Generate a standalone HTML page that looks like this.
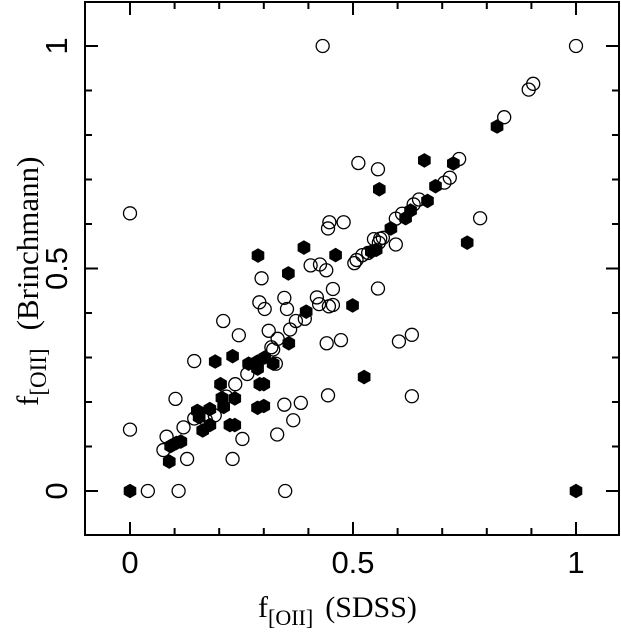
<!DOCTYPE html>
<html><head><meta charset="utf-8"><style>
html,body{margin:0;padding:0;background:#fff}
svg{display:block}
text{font-family:"Liberation Sans",sans-serif;fill:#000}
.tt{font-family:"Liberation Serif",serif}
</style></head><body>
<svg id="chart" width="621" height="644" viewBox="0 0 621 644" xmlns="http://www.w3.org/2000/svg">
<g id="axes"></g>
<g id="marks"></g>
<text class="tt" x="258" y="617" font-size="30">f<tspan font-size="22" dy="8">[OII]</tspan><tspan dy="-8" dx="12">(SDSS)</tspan></text>
<text class="tt" transform="translate(38,406) rotate(-90)" font-size="31">f<tspan font-size="23" dy="8">[OII]</tspan><tspan dy="-8" dx="18">(Brinchmann)</tspan></text>
</svg>
<script>
const xTicks=[0,0.5,1];
const xTickLabels=["0","0.5","1"];
const yTicks=[0,0.5,1];
const yTickLabels=["0","0.5","1"];
const openX=[0.432,1,0.894,0.904,0.839,0.738,0.512,0.556,0.717,0.705,0.648,0.636,0.610,0.596,0.785,0,0.479,0.447,0.444,0.547,0.561,0.567,0.558,0.596,0.534,0.521,0.508,0.503,0.405,0.426,0.440,0.295,0.556,0.455,0.346,0.352,0.290,0.302,0.419,0.424,0.446,0.455,0.392,0.372,0.359,0.311,0.209,0.244,0.331,0.317,0.321,0.327,0.441,0.473,0.603,0.632,0.144,0.263,0.236,0.216,0.102,0.444,0.632,0.383,0.346,0.144,0.120,0.366,0,0.082,0.075,0.330,0.252,0.128,0.230,0.040,0.109,0.348,0.190,0.170];
const openY=[1,1,0.902,0.915,0.840,0.746,0.737,0.723,0.704,0.693,0.655,0.644,0.623,0.612,0.613,0.624,0.604,0.604,0.590,0.566,0.567,0.569,0.558,0.554,0.535,0.530,0.519,0.512,0.507,0.509,0.496,0.478,0.455,0.454,0.434,0.409,0.424,0.409,0.435,0.420,0.415,0.418,0.387,0.382,0.363,0.360,0.382,0.350,0.342,0.323,0.318,0.286,0.332,0.339,0.336,0.351,0.292,0.263,0.240,0.212,0.207,0.215,0.213,0.198,0.194,0.163,0.143,0.159,0.138,0.122,0.092,0.127,0.117,0.072,0.072,0,0,0,0.170,0.160];
const fillX=[0,1,0.823,0.660,0.725,0.559,0.685,0.667,0.629,0.618,0.585,0.756,0.552,0.541,0.287,0.390,0.461,0.355,0.499,0.395,0.356,0.525,0.230,0.191,0.266,0.286,0.302,0.321,0.286,0.291,0.300,0.203,0.206,0.235,0.210,0.286,0.300,0.151,0.179,0.155,0.163,0.179,0.224,0.235,0.091,0.104,0.114,0.088];
const fillY=[0,0,0.819,0.743,0.736,0.678,0.685,0.652,0.630,0.613,0.590,0.558,0.542,0.538,0.529,0.547,0.530,0.489,0.417,0.403,0.332,0.256,0.303,0.291,0.286,0.291,0.300,0.286,0.275,0.240,0.240,0.240,0.209,0.208,0.189,0.187,0.191,0.180,0.184,0.166,0.136,0.148,0.148,0.148,0.101,0.108,0.111,0.066];
const X0=85,X1=619,Y0=2,Y1=535;
function sx(v){return 130+446*v;}
function sy(v){return 491-445*v;}
const NS="http://www.w3.org/2000/svg";
const axes=document.getElementById('axes');
const marks=document.getElementById('marks');
function mk(t,a,p){const e=document.createElementNS(NS,t);for(const k in a)e.setAttribute(k,a[k]);p.appendChild(e);return e;}
const frame=mk('rect',{x:X0,y:Y0,width:X1-X0,height:Y1-Y0,fill:'none',stroke:'#000','stroke-width':2},axes);


for(let i=-1;i<=11;i++){
  const v=i/10; const maj=(i%5===0); const L=maj?13:7;
  const px=sx(v);
  if(px>X0+1&&px<X1-1){
    const t1=mk('line',{x1:px,y1:Y1,x2:px,y2:Y1-L,stroke:'#000','stroke-width':2},axes);
    
    
    const t2=mk('line',{x1:px,y1:Y0,x2:px,y2:Y0+L,stroke:'#000','stroke-width':2},axes);
    
    
  }
  const py=sy(v);
  if(py>Y0+1&&py<Y1-1){
    const t3=mk('line',{x1:X0,y1:py,x2:X0+L,y2:py,stroke:'#000','stroke-width':2},axes);
    
    
    const t4=mk('line',{x1:X1,y1:py,x2:X1-L,y2:py,stroke:'#000','stroke-width':2},axes);
    
    
  }
}
xTicks.forEach((v,i)=>{
  const t=mk('text',{x:sx(v),y:573,'font-size':31,'text-anchor':'middle'},axes);
  t.textContent=xTickLabels[i];
  
  
});
yTicks.forEach((v,i)=>{
  const t=mk('text',{transform:'translate(67,'+sy(v)+') rotate(-90)','font-size':31,'text-anchor':'middle'},axes);
  t.textContent=yTickLabels[i];
  
  
});
openX.forEach((v,i)=>{
  const c=mk('circle',{cx:sx(v),cy:sy(openY[i]),r:6.5,fill:'none',stroke:'#000','stroke-width':1.3},marks);
  
  
});
fillX.forEach((v,i)=>{
  const cx=sx(v),cy=sy(fillY[i]),r=7.3;let p=[];
  for(let k=0;k<6;k++){const a=Math.PI/2+k*Math.PI/3;p.push((cx+r*Math.cos(a)).toFixed(1)+','+(cy+r*Math.sin(a)).toFixed(1));}
  const h=mk('polygon',{points:p.join(' '),fill:'#000'},marks);
  
  
});
</script>
</body></html>
